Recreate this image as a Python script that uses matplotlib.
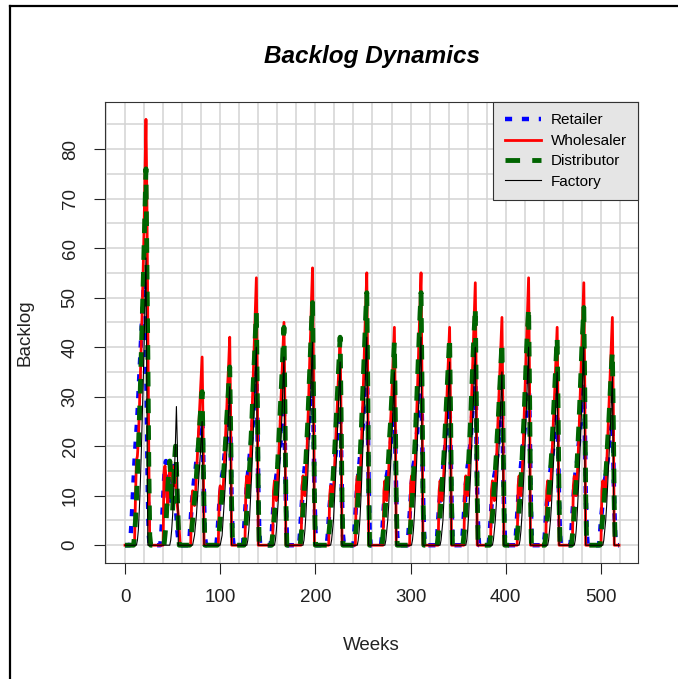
import numpy as np
import matplotlib.pyplot as plt
from matplotlib.lines import Line2D

plt.rcParams['font.family'] = ['Liberation Sans', 'DejaVu Sans']

n_weeks = 520

# backlog bursts per stage: (first week, weekly values), zero elsewhere
retailer_bursts = [
    (6, [2, 5, 9, 13, 17, 20, 23, 26, 30, 34, 38, 42, 46, 50, 53, 55, 42, 25, 10, 2]),
    (38, [2, 5, 9, 13, 16, 17, 16, 14, 12, 10, 8, 10, 13, 16, 14, 10, 6, 3, 1]),
    (68, [2, 5, 8, 10, 12, 14, 15, 17, 18, 20, 22, 24, 26, 27, 20, 9, 2]),
    (97, [2, 5, 8, 10, 12, 14, 15, 17, 19, 21, 23, 25, 27, 28, 20, 9, 2]),
    (125, [3, 6, 9, 12, 14, 16, 18, 20, 22, 24, 27, 30, 33, 35, 26, 12, 3]),
    (154, [2, 5, 8, 10, 12, 14, 15, 17, 18, 20, 22, 24, 26, 27, 20, 9, 2]),
    (184, [3, 6, 9, 12, 14, 16, 17, 19, 21, 23, 26, 29, 31, 33, 25, 11, 3]),
    (213, [2, 5, 8, 10, 12, 14, 15, 17, 18, 20, 22, 24, 26, 27, 20, 9, 2]),
    (241, [3, 6, 9, 12, 14, 16, 18, 20, 22, 25, 28, 31, 34, 36, 27, 12, 3]),
    (270, [2, 5, 8, 10, 12, 14, 15, 17, 18, 20, 22, 24, 26, 27, 20, 9, 2]),
    (298, [3, 6, 9, 12, 14, 16, 17, 19, 21, 23, 26, 29, 31, 33, 25, 11, 3]),
    (328, [2, 5, 8, 10, 12, 14, 15, 17, 19, 21, 23, 25, 27, 28, 20, 9, 2]),
    (355, [3, 6, 9, 12, 14, 16, 17, 19, 21, 24, 27, 30, 32, 34, 25, 11, 3]),
    (383, [2, 5, 8, 10, 12, 14, 15, 17, 18, 20, 22, 24, 26, 27, 20, 9, 2]),
    (411, [3, 6, 9, 12, 14, 16, 18, 20, 22, 24, 27, 30, 33, 35, 26, 12, 3]),
    (441, [2, 5, 8, 10, 12, 14, 15, 17, 18, 20, 22, 24, 26, 27, 20, 9, 2]),
    (469, [3, 6, 9, 12, 14, 16, 17, 19, 21, 23, 26, 29, 31, 33, 25, 11, 3]),
    (499, [2, 5, 7, 9, 11, 13, 14, 16, 17, 19, 21, 23, 24, 25, 18, 8, 2]),
]

wholesaler_bursts = [
    (8, [0, 0, 0, 10, 17, 18, 21, 27, 33, 40, 47, 55, 64, 75, 86, 70, 45, 18, 0]),
    (40, [0, 15, 16, 14, 10, 8, 12, 16, 17, 15, 13, 12, 16, 14, 10, 8, 6, 3]),
    (68, [0, 0, 9, 11, 10, 8, 10, 14, 18, 22, 26, 30, 34, 38, 24, 0, 0]),
    (97, [0, 0, 10, 12, 11, 9, 11, 15, 19, 24, 28, 33, 37, 42, 26, 0, 0]),
    (125, [0, 0, 12, 14, 12, 10, 13, 18, 24, 30, 36, 42, 48, 54, 33, 0, 0]),
    (154, [0, 0, 11, 13, 11, 9, 12, 16, 20, 25, 30, 35, 40, 45, 28, 0, 0]),
    (184, [0, 0, 12, 14, 12, 10, 13, 18, 24, 30, 37, 43, 50, 56, 35, 0, 0]),
    (213, [0, 0, 10, 12, 11, 9, 11, 15, 19, 24, 28, 33, 37, 42, 26, 0, 0]),
    (241, [0, 0, 12, 14, 12, 10, 13, 18, 24, 30, 36, 43, 49, 55, 34, 0, 0]),
    (270, [0, 0, 11, 13, 11, 9, 11, 15, 20, 25, 29, 34, 39, 44, 27, 0, 0]),
    (298, [0, 0, 12, 14, 12, 10, 13, 18, 24, 30, 36, 43, 49, 55, 34, 0, 0]),
    (328, [0, 0, 11, 13, 11, 9, 11, 15, 20, 25, 29, 34, 39, 44, 27, 0, 0]),
    (355, [0, 0, 12, 14, 12, 10, 13, 18, 23, 29, 35, 41, 47, 53, 33, 0, 0]),
    (383, [0, 0, 11, 13, 11, 9, 12, 16, 21, 26, 31, 36, 41, 46, 28, 0, 0]),
    (411, [0, 0, 12, 14, 12, 10, 13, 18, 24, 30, 36, 42, 48, 54, 33, 0, 0]),
    (441, [0, 0, 11, 13, 11, 9, 11, 15, 20, 25, 29, 34, 39, 44, 27, 0, 0]),
    (469, [0, 0, 12, 14, 12, 10, 13, 18, 23, 29, 35, 41, 47, 53, 33, 0, 0]),
    (499, [0, 0, 11, 13, 11, 9, 12, 16, 21, 26, 31, 36, 41, 46, 28, 0, 0]),
]

distributor_bursts = [
    (8, [0, 0, 2, 5, 9, 14, 19, 25, 31, 38, 45, 52, 60, 68, 76, 58, 38, 16, 2]),
    (42, [2, 4, 8, 12, 15, 17, 14, 10, 7, 12, 17, 20, 16, 10, 4]),
    (68, [0, 1, 3, 5, 7, 9, 11, 14, 17, 20, 23, 26, 29, 31, 20, 7, 0]),
    (97, [0, 2, 3, 5, 8, 10, 13, 16, 19, 22, 26, 29, 33, 36, 23, 8, 0]),
    (125, [0, 2, 4, 7, 10, 13, 16, 20, 24, 29, 34, 38, 43, 47, 30, 10, 0]),
    (154, [0, 2, 4, 6, 9, 12, 15, 19, 23, 27, 31, 35, 40, 44, 28, 9, 0]),
    (184, [0, 2, 4, 7, 10, 13, 17, 21, 25, 30, 35, 40, 45, 49, 31, 10, 0]),
    (213, [0, 2, 4, 6, 9, 12, 15, 18, 22, 26, 30, 34, 38, 42, 27, 9, 0]),
    (241, [0, 2, 4, 7, 10, 14, 18, 22, 27, 32, 37, 42, 47, 51, 33, 11, 0]),
    (270, [0, 2, 4, 6, 9, 12, 15, 18, 22, 25, 29, 33, 37, 41, 26, 9, 0]),
    (298, [0, 2, 4, 7, 10, 14, 18, 22, 27, 32, 37, 42, 47, 51, 33, 11, 0]),
    (328, [0, 2, 4, 6, 9, 12, 15, 18, 22, 26, 30, 34, 38, 42, 27, 9, 0]),
    (355, [0, 2, 4, 7, 10, 13, 17, 21, 25, 30, 35, 40, 44, 48, 31, 10, 0]),
    (383, [0, 2, 4, 6, 9, 12, 15, 18, 22, 25, 29, 33, 37, 41, 26, 9, 0]),
    (411, [0, 2, 4, 7, 10, 13, 17, 21, 25, 30, 35, 40, 44, 48, 31, 10, 0]),
    (441, [0, 2, 4, 6, 9, 12, 15, 18, 22, 26, 30, 34, 38, 42, 27, 9, 0]),
    (469, [0, 2, 4, 7, 10, 13, 17, 21, 25, 30, 35, 40, 44, 48, 31, 10, 0]),
    (499, [0, 2, 4, 6, 8, 11, 14, 17, 21, 24, 28, 32, 36, 39, 25, 8, 0]),
]

factory_bursts = [
    (8, [0, 0, 0, 0, 0, 1, 3, 7, 12, 18, 25, 32, 40, 49, 58, 30, 0]),
    (48, [1, 3, 6, 10, 15, 21, 28, 20, 0]),
    (68, [0, 0, 0, 0, 1, 2, 4, 6, 9, 12, 15, 18, 21, 25, 13, 0, 0]),
    (97, [0, 0, 0, 0, 1, 2, 5, 8, 11, 15, 19, 23, 28, 32, 16, 0, 0]),
    (125, [0, 0, 0, 0, 1, 3, 6, 10, 14, 19, 24, 29, 35, 40, 21, 0, 0]),
    (154, [0, 0, 0, 0, 1, 3, 6, 9, 13, 18, 22, 27, 33, 38, 19, 0, 0]),
    (184, [0, 0, 0, 0, 1, 3, 6, 10, 14, 19, 24, 30, 36, 41, 21, 0, 0]),
    (213, [0, 0, 0, 0, 1, 3, 5, 9, 13, 17, 22, 27, 32, 37, 18, 0, 0]),
    (241, [0, 0, 0, 0, 1, 3, 6, 10, 15, 20, 26, 31, 37, 42, 22, 0, 0]),
    (270, [0, 0, 0, 0, 1, 3, 5, 8, 12, 16, 20, 25, 30, 35, 17, 0, 0]),
    (298, [0, 0, 0, 0, 1, 3, 6, 10, 15, 20, 26, 31, 37, 42, 22, 0, 0]),
    (328, [0, 0, 0, 0, 1, 3, 5, 9, 13, 17, 22, 27, 32, 37, 18, 0, 0]),
    (355, [0, 0, 0, 0, 1, 3, 6, 10, 14, 19, 24, 29, 35, 40, 21, 0, 0]),
    (383, [0, 0, 0, 0, 1, 3, 5, 8, 12, 16, 20, 25, 30, 35, 17, 0, 0]),
    (411, [0, 0, 0, 0, 1, 3, 6, 10, 14, 19, 24, 29, 35, 40, 21, 0, 0]),
    (441, [0, 0, 0, 0, 1, 3, 5, 8, 12, 16, 20, 25, 30, 35, 17, 0, 0]),
    (469, [0, 0, 0, 0, 1, 3, 6, 10, 14, 19, 24, 29, 35, 40, 21, 0, 0]),
    (499, [0, 0, 0, 0, 1, 3, 5, 8, 12, 16, 20, 24, 29, 34, 17, 0, 0]),
]


def build(bursts):
    y = np.zeros(n_weeks)
    for start, vals in bursts:
        y[start:start + len(vals)] = vals
    return y


weeks = np.arange(n_weeks)
retailer = build(retailer_bursts)
wholesaler = build(wholesaler_bursts)
distributor = build(distributor_bursts)
factory = build(factory_bursts)

fig = plt.figure(figsize=(6.78, 6.79), dpi=100)
ax = fig.add_axes([0.1549, 0.1708, 0.7862, 0.679])

# grid like R's grid()
for gx in range(-20, 541, 20):
    ax.axvline(gx, color='#d3d3d3', lw=1.1, zorder=0)
for gy in range(-5, 91, 5):
    ax.axhline(gy, color='#d3d3d3', lw=1.1, zorder=0)

ax.plot(weeks, retailer, color='#0000ff', lw=3.2, dashes=(1.6, 2.2), label='Retailer')
ax.plot(weeks, wholesaler, color='#ff0000', lw=2, label='Wholesaler')
ax.plot(weeks, distributor, color='#006400', lw=3.5, dashes=(3, 2.5), label='Distributor')
ax.plot(weeks, factory, color='black', lw=0.8, label='Factory')

ax.set_xlim(-21, 539)
ax.set_ylim(-3.6, 89.5)
ax.set_xticks(range(0, 501, 100))
ax.set_yticks(range(0, 81, 10))
ax.tick_params(direction='out', length=8, width=0.8, labelsize=13.5, pad=11,
               colors='#222222')
for lab in ax.get_yticklabels():
    lab.set_rotation(90)
    lab.set_va('center')
for sp in ax.spines.values():
    sp.set_color('#333333')
    sp.set_linewidth(0.8)

ax.set_xlabel('Weeks', fontsize=13.5, color='#222222')
ax.xaxis.set_label_coords(0.5, -0.178)
ax.xaxis.label.set_va('center')
ax.set_ylabel('Backlog', fontsize=13.5, color='#222222')
ax.yaxis.set_label_coords(-0.150, 0.5)
ax.yaxis.label.set_va('center')

ax.text(0.5, 1.0976, 'Backlog Dynamics', transform=ax.transAxes, ha='center',
        va='center', fontsize=17.5, fontweight='bold', fontstyle='italic')

leg = ax.legend(loc='upper right', borderaxespad=0, fontsize=11, fancybox=False,
                framealpha=1, facecolor='#e5e5e5', edgecolor='#333333',
                handlelength=2.4, labelspacing=0.42, borderpad=0.75,
                handletextpad=0.6)
leg.get_frame().set_linewidth(0.8)

# outer frame lines
fig.add_artist(Line2D([10 / 678, 10 / 678], [0, 1 - 6 / 679], transform=fig.transFigure,
                      color='black', lw=1.6))
fig.add_artist(Line2D([10 / 678, 1], [1 - 6 / 679, 1 - 6 / 679], transform=fig.transFigure,
                      color='black', lw=1.6))

fig.savefig('out.png', dpi=100)
